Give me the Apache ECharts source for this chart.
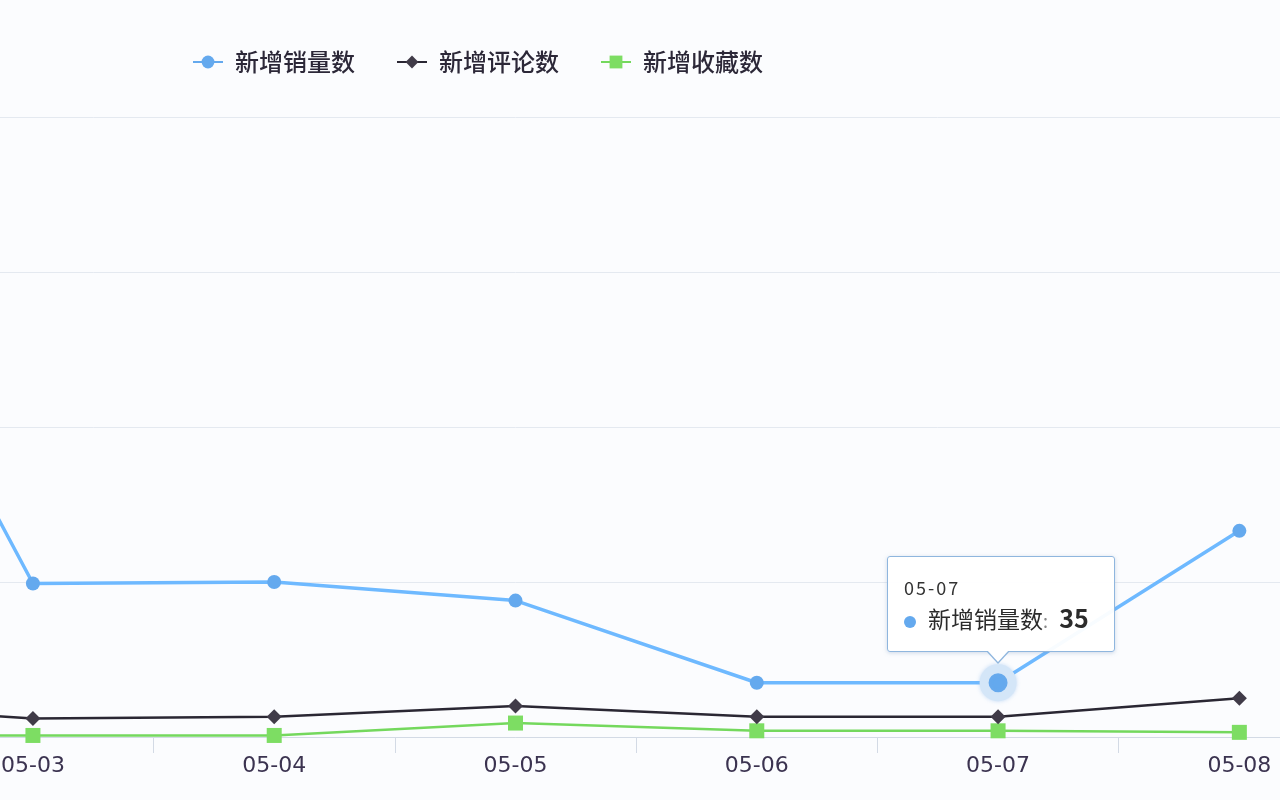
<!DOCTYPE html>
<html>
<head>
<meta charset="utf-8">
<script src="https://cdn.jsdelivr.net/npm/echarts@6/dist/echarts.min.js"></script>
<style>
html,body{margin:0;padding:0;background:#fbfcfe;overflow:hidden;width:1280px;height:800px;}
#wrap{position:relative;width:1280px;height:800px;overflow:hidden;}
#main{position:absolute;left:-329px;top:0;width:1689px;height:800px;}
</style>
</head>
<body>
<div id="wrap"><div id="main"></div></div>
<script>
const dates = ['05-02','05-03','05-04','05-05','05-06','05-07','05-08'];
const salesNew = [391, 99, 100, 88, 35, 35, 133];
const commentsNew = [22, 12, 13, 20, 13, 13, 25];
const favoritesNew = [1, 1, 1, 9, 4, 4, 3];
const seriesNames = ['新增销量数', '新增评论数', '新增收藏数'];
const yTicks = [0, 100, 200, 300, 400];

const chart = echarts.init(document.getElementById('main'));
const FONT = '"Noto Sans CJK SC", "Noto Sans", sans-serif';

const option = {
  backgroundColor: '#fbfcfe',
  animation: false,
  legend: {
    left: 329 + 187,
    top: 45,
    itemWidth: 30,
    itemHeight: 16,
    itemGap: 41,
    data: seriesNames,
    textStyle: { fontSize: 24, color: '#2c2838', fontFamily: FONT, fontWeight: 500, padding: [0, 0, 0, 7] }
  },
  tooltip: {
    trigger: 'item',
    triggerOn: 'none',
    alwaysShowContent: true,
    transitionDuration: 0,
    backgroundColor: 'rgba(255,255,255,0.95)',
    borderColor: '#8fb6de',
    borderWidth: 1,
    padding: [17, 25, 14, 16],
    extraCssText: 'box-shadow:0 1px 4px rgba(120,150,190,0.35);border-radius:3px;overflow:visible;',
    position: function (point, params, dom, rect, size) {
      const px = chart.convertToPixel({ seriesIndex: params.seriesIndex }, [params.dataIndex, params.value]);
      return [px[0] - size.contentSize[0] / 2 + 3, px[1] - size.contentSize[1] - 31];
    },
    formatter: function (p) {
      return '<div style="position:relative;font-family:' + FONT.replace(/"/g, "'") + ';">' +
        '<div style="font-size:18px;color:#333;letter-spacing:2px;line-height:26px;">' + p.name + '</div>' +
        '<div style="line-height:34px;font-size:23px;color:#2b2b2b;white-space:nowrap;">' +
        '<span style="display:inline-block;width:12px;height:12px;border-radius:50%;background:' + p.color + ';margin-right:12px;vertical-align:middle;"></span>' +
        p.seriesName + '<span style="color:#888;font-size:18px;">:</span> <span style="font-size:25px;font-weight:600;margin-left:6px;">' + p.value + '</span></div>' +
        '</div>' +
        '<div style="position:absolute;left:50%;bottom:-13px;margin-left:-15px;width:0;height:0;border-left:12px solid transparent;border-right:12px solid transparent;border-top:13px solid #8fb6de;"></div>' +
        '<div style="position:absolute;left:50%;bottom:-11px;margin-left:-14px;width:0;height:0;border-left:11px solid transparent;border-right:11px solid transparent;border-top:12px solid #ffffff;"></div>';
    }
  },
  grid: { left: 0, right: 0, top: 117, bottom: 63, containLabel: false },
  xAxis: {
    type: 'category',
    data: dates,
    boundaryGap: true,
    axisLine: { lineStyle: { color: '#d3dae5', width: 1 } },
    axisTick: { show: true, length: 16, lineStyle: { color: '#d3dae5' } },
    axisLabel: { fontSize: 22, color: '#3b3350', margin: 18, fontFamily: '"DejaVu Sans", sans-serif' }
  },
  yAxis: {
    type: 'value',
    min: yTicks[0],
    max: yTicks[yTicks.length - 1],
    interval: yTicks[1] - yTicks[0],
    axisLine: { show: false },
    axisTick: { show: false },
    axisLabel: { show: false },
    splitLine: { lineStyle: { color: '#e4e9f0', width: 1 } }
  },
  series: [
    {
      name: seriesNames[0],
      type: 'line',
      data: salesNew,
      symbol: 'circle',
      symbolSize: 14,
      color: '#64a9ee',
      lineStyle: { width: 3.5, color: '#64a9ee' },
      itemStyle: { color: '#64a9ee' },
      emphasis: {
        scale: 2,
        lineStyle: { width: 3.5 },
        itemStyle: { color: '#64a9ee', borderColor: '#d4e6f8', borderWidth: 9, shadowBlur: 4, shadowColor: 'rgba(120,175,235,0.4)' }
      },
      z: 4
    },
    {
      name: seriesNames[1],
      type: 'line',
      data: commentsNew,
      symbol: 'diamond',
      symbolSize: 15,
      color: '#37333f',
      lineStyle: { width: 2.5, color: '#2a2733' },
      itemStyle: { color: '#403b48' },
      z: 3
    },
    {
      name: seriesNames[2],
      type: 'line',
      data: favoritesNew,
      symbol: 'rect',
      symbolSize: 15,
      color: '#7ddd63',
      lineStyle: { width: 2.5, color: '#74d85d' },
      itemStyle: { color: '#7ddd63' },
      z: 2
    }
  ]
};

chart.setOption(option);
chart.dispatchAction({ type: 'highlight', seriesIndex: 0, dataIndex: 5 });
chart.dispatchAction({ type: 'showTip', seriesIndex: 0, dataIndex: 5 });
</script>
</body>
</html>
